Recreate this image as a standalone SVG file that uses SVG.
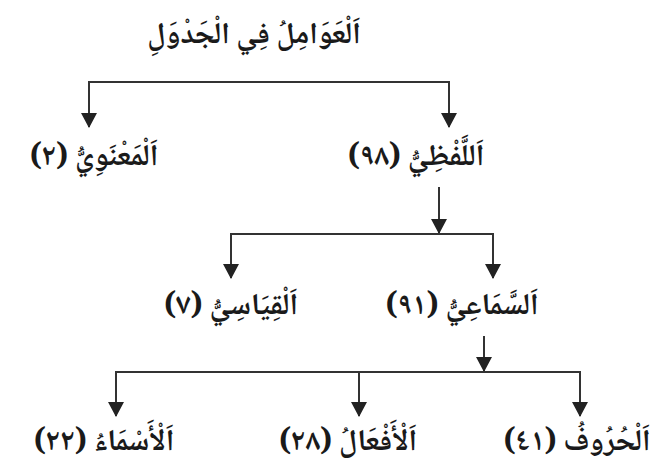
<svg xmlns="http://www.w3.org/2000/svg" width="654" height="470" viewBox="0 0 654 470">
<style>
.lbl{font-family:"Noto Naskh Arabic","DejaVu Sans",sans-serif;font-size:30px;font-weight:bold;fill:#1a1a1a;text-anchor:middle}
.con{fill:none;stroke:#333;stroke-width:2}
</style>
<defs>
<marker id="ah" viewBox="0 0 15 16" refX="14" refY="8" markerWidth="15" markerHeight="16" markerUnits="userSpaceOnUse" orient="auto">
<path d="M0,0 L15,8 L0,16 z" fill="#222"/>
</marker>
</defs>
<rect width="654" height="470" fill="#fff"/>
<g id="connectors">
<path class="con" d="M269,82 H89 V127" marker-end="url(#ah)"/>
<path class="con" d="M269,82 H449 V127" marker-end="url(#ah)"/>
<path class="con" d="M439,187 V233" marker-end="url(#ah)"/>
<path class="con" d="M439,234 H231 V278" marker-end="url(#ah)"/>
<path class="con" d="M439,234 H493 V278" marker-end="url(#ah)"/>
<path class="con" d="M484,336 V371" marker-end="url(#ah)"/>
<path class="con" d="M484,372 H116 V416" marker-end="url(#ah)"/>
<path class="con" d="M359,372 V416" marker-end="url(#ah)"/>
<path class="con" d="M484,372 H580 V416" marker-end="url(#ah)"/>
</g>
<g id="root"><text class="lbl" x="254" y="43" direction="rtl">اَلْعَوَامِلُ فِي الْجَدْوَلِ</text></g>
<g id="manawi"><text class="lbl" x="94" y="165" direction="rtl">اَلْمَعْنَوِيُّ (٢)</text></g>
<g id="lafzi"><text class="lbl" x="416" y="165" direction="rtl">اَللَّفْظِيُّ (٩٨)</text></g>
<g id="qiyasi"><text class="lbl" x="231" y="314" direction="rtl">اَلْقِيَاسِيُّ (٧)</text></g>
<g id="samai"><text class="lbl" x="462" y="314" direction="rtl">اَلسَّمَاعِيُّ (٩١)</text></g>
<g id="asma"><text class="lbl" x="104" y="450" direction="rtl">اَلْأَسْمَاءُ (٢٢)</text></g>
<g id="afal"><text class="lbl" x="348" y="450" direction="rtl">اَلْأَفْعَالُ (٢٨)</text></g>
<g id="huruf"><text class="lbl" x="577" y="450" direction="rtl">اَلْحُرُوفُ (٤١)</text></g>
</svg>
